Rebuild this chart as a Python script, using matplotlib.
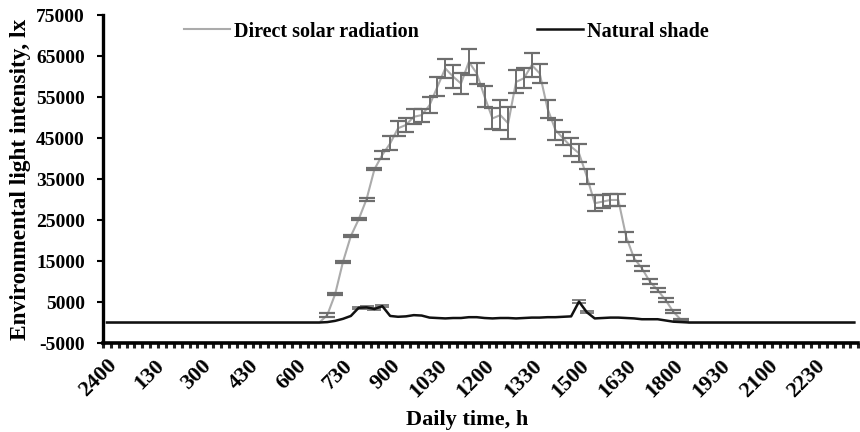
import numpy as np
import matplotlib
matplotlib.use("Agg")
import matplotlib.pyplot as plt

plt.rcParams['font.family'] = ['Liberation Serif', 'DejaVu Serif']
plt.rcParams['font.weight'] = 'bold'

# 15-minute categories over a day (96 slots), labels every 90 min
tick_labels = ["2400", "130", "300", "430", "600", "730", "900", "1030",
               "1200", "1330", "1500", "1630", "1800", "1930", "2100", "2230"]
label_index = [0, 6, 12, 18, 24, 30, 36, 42, 48, 54, 60, 66, 72, 78, 84, 90]

solar = [0, 0, 0, 0, 0, 0, 0, 0, 0, 0, 0, 0, 0, 0, 0, 0,
         0, 0, 0, 0, 0, 0, 0, 0, 0, 0, 0, 0,
         1800, 6900, 14800, 21100, 25200, 30100, 37400, 40900,
         43700, 47400, 48200, 50200, 50600, 53000, 57500, 62000,
         60000, 58300, 63600, 60800, 55100, 49800, 50600, 48600,
         58700, 59600, 62800, 60800, 52200, 47000, 44900, 42900,
         41300, 35600, 29100, 29500, 29900, 29900, 20900, 15700,
         13200, 10000, 7900, 5500, 2600, 600,
         0, 0, 0, 0, 0, 0, 0, 0, 0, 0, 0, 0, 0, 0, 0, 0, 0, 0, 0, 0, 0, 0]
solar_err = [0, 0, 0, 0, 0, 0, 0, 0, 0, 0, 0, 0, 0, 0, 0, 0,
             0, 0, 0, 0, 0, 0, 0, 0, 0, 0, 0, 0,
             400, 300, 300, 300, 300, 400, 300, 1000,
             1700, 1800, 1800, 1800, 1600, 2000, 2300, 2400,
             2800, 2600, 3200, 2500, 2600, 2500, 3700, 3900,
             2800, 2400, 3000, 2300, 2200, 2400, 1700, 2200,
             2200, 1800, 1900, 1500, 1500, 1500, 1200, 700,
             700, 600, 500, 500, 400, 300,
             0, 0, 0, 0, 0, 0, 0, 0, 0, 0, 0, 0, 0, 0, 0, 0, 0, 0, 0, 0, 0, 0]

shade = [0, 0, 0, 0, 0, 0, 0, 0, 0, 0, 0, 0, 0, 0, 0, 0,
         0, 0, 0, 0, 0, 0, 0, 0, 0, 0, 0, 0,
         100, 400, 900, 1600, 3600, 3700, 3300, 4000,
         1600, 1400, 1500, 1800, 1700, 1200, 1100, 1000,
         1100, 1100, 1300, 1300, 1100, 1000, 1100, 1100,
         1000, 1100, 1200, 1200, 1300, 1300, 1400, 1500,
         5100, 2500, 1000, 1100, 1200, 1200, 1100, 1000,
         800, 800, 800, 500, 200, 100,
         0, 0, 0, 0, 0, 0, 0, 0, 0, 0, 0, 0, 0, 0, 0, 0, 0, 0, 0, 0, 0, 0]
shade_err = [0, 0, 0, 0, 0, 0, 0, 0, 0, 0, 0, 0, 0, 0, 0, 0,
             0, 0, 0, 0, 0, 0, 0, 0, 0, 0, 0, 0,
             0, 0, 0, 0, 300, 300, 300, 300,
             0, 0, 0, 0, 0, 0, 0, 0,
             0, 0, 0, 0, 0, 0, 0, 0,
             0, 0, 0, 0, 0, 0, 0, 0,
             400, 300, 0, 0, 0, 0, 0, 0,
             0, 0, 0, 0, 0, 0,
             0, 0, 0, 0, 0, 0, 0, 0, 0, 0, 0, 0, 0, 0, 0, 0, 0, 0, 0, 0, 0, 0]

x = np.arange(len(solar))
solar = np.array(solar, float)
solar_err = np.array(solar_err, float)
shade = np.array(shade, float)
shade_err = np.array(shade_err, float)

fig = plt.figure(figsize=(8.6, 4.32), dpi=100)
ax = fig.add_axes([0.1198, 0.206, 0.8782, 0.759])

m = solar_err > 0
ax.plot(x, solar, color='#ababab', lw=1.5, zorder=2, label='Direct solar radiation')
ax.errorbar(x[m], solar[m], yerr=solar_err[m], fmt='none', ecolor='#6e6e6e',
            elinewidth=1.4, capsize=5.8, capthick=1.6, zorder=3)

ms = shade_err > 0
ax.errorbar(x[ms], shade[ms], yerr=shade_err[ms], fmt='none', ecolor='#808080',
            elinewidth=1.0, capsize=5.0, capthick=1.4, zorder=3)
ax.plot(x, shade, color='#111111', lw=1.8, zorder=4, label='Natural shade')

ax.set_xlim(-0.5, 95.5)
ax.set_ylim(-5000, 75000)
yt = np.arange(-5000, 75001, 10000)
ax.set_yticks(yt)
ax.set_yticklabels([str(v) for v in yt], fontsize=14, fontweight='bold')

ax.set_xticks(np.arange(-0.5, 96, 1))
ax.set_xticklabels([])
ax.set_xticks(label_index, minor=True)
ax.set_xticklabels(tick_labels, minor=True, rotation=45, ha='right',
                   rotation_mode='anchor', fontsize=16, fontweight='bold')
ax.tick_params(axis='x', which='major', direction='out', length=3.5, width=2.2,
               color='#222222')
ax.tick_params(axis='x', which='minor', length=0, pad=9)
ax.tick_params(axis='y', direction='out', length=4, width=1.5, pad=9)

for s in ['top', 'right']:
    ax.spines[s].set_visible(False)
ax.spines['left'].set_linewidth(2.4)
ax.spines['bottom'].set_linewidth(2.6)

ax.set_xlabel('Daily time, h', fontsize=16, fontweight='bold', labelpad=2)
ax.xaxis.set_label_coords(0.482, -0.205)
ax.set_ylabel('Environmental light intensity, lx', fontsize=16.8,
              fontweight='bold', labelpad=4)

leg = fig.legend(loc='center', bbox_to_anchor=(0.519, 0.927), ncol=2,
                 frameon=False, prop={'size': 14.5, 'weight': 'bold'},
                 handlelength=2.25, handletextpad=0.2, columnspacing=5.9)

fig.savefig('out.png', dpi=100)
